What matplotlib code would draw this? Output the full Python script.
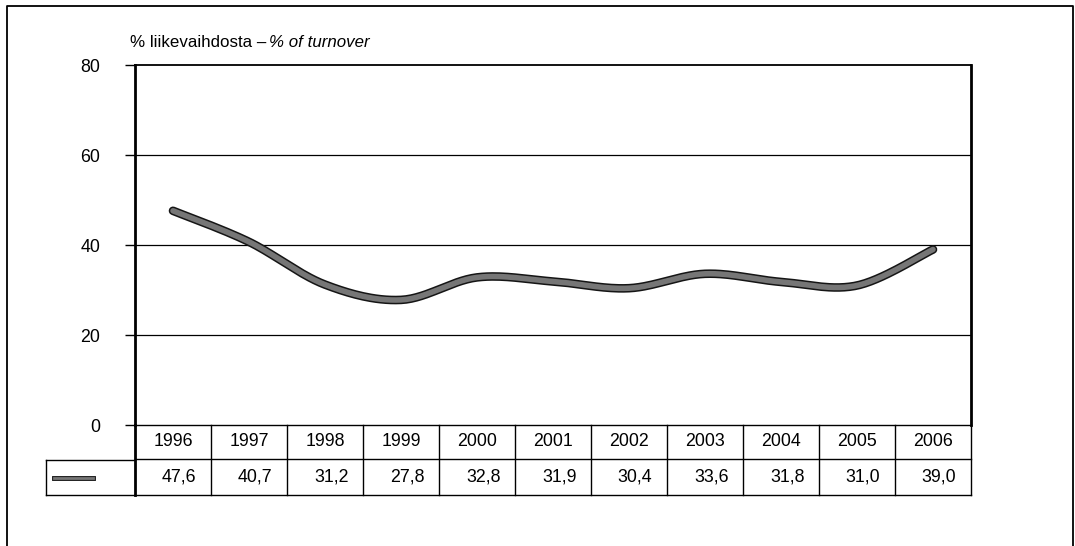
import numpy as np
import matplotlib
matplotlib.use("Agg")
import matplotlib.pyplot as plt
from matplotlib.lines import Line2D
import matplotlib.patheffects as pe

years = ["1996", "1997", "1998", "1999", "2000", "2001", "2002", "2003", "2004", "2005", "2006"]
values = [47.6, 40.7, 31.2, 27.8, 32.8, 31.9, 30.4, 33.6, 31.8, 31.0, 39.0]
value_labels = ["47,6", "40,7", "31,2", "27,8", "32,8", "31,9", "30,4", "33,6", "31,8", "31,0", "39,0"]
yticks = [0, 20, 40, 60, 80]
title_fi = "% liikevaihdosta –"
title_en = "% of turnover"

plt.rcParams['font.family'] = ['Liberation Sans', 'DejaVu Sans']
FS = 12.8
TFS = 12.2

W, H = 1075, 546
fig = plt.figure(figsize=(W / 100, H / 100), dpi=100)

L, R, T, B = 135, 971, 65, 425
ax = fig.add_axes([L / W, 1 - B / H, (R - L) / W, (B - T) / H])

x = np.arange(len(values), dtype=float)
y = np.array(values, dtype=float)

# Catmull-Rom smoothing (Excel-like smoothed line)
def smooth(xp, yp, n=30):
    P = np.column_stack([xp, yp])
    P = np.vstack([P[0], P, P[-1]])
    out = []
    for i in range(1, len(P) - 2):
        p0, p1, p2, p3 = P[i - 1], P[i], P[i + 1], P[i + 2]
        t = np.linspace(0, 1, n, endpoint=False)[:, None]
        c1 = p1 + (p2 - p0) / 6
        c2 = p2 - (p3 - p1) / 6
        seg = ((1 - t) ** 3) * p1 + 3 * ((1 - t) ** 2) * t * c1 + 3 * (1 - t) * t ** 2 * c2 + t ** 3 * p2
        out.append(seg)
    out.append(P[-2][None, :])
    out = np.vstack(out)
    return out[:, 0], out[:, 1]

sx, sy = smooth(x, y)
ax.plot(sx, sy, color='#767676', lw=4.0, solid_capstyle='round', zorder=3,
        path_effects=[pe.Stroke(linewidth=6.2, foreground='#151515'), pe.Normal()])

ax.set_xlim(-0.5, len(values) - 0.5)
ax.set_ylim(0, 80)
ax.set_yticks(yticks)
ax.set_yticklabels([str(v) for v in yticks], fontsize=FS)
ax.tick_params(axis='y', direction='out', length=7, width=1, pad=18, color='black')
ax.set_xticks([])
for v in yticks[1:-1]:
    ax.axhline(v, color='black', lw=0.9, zorder=1)
ax.spines['left'].set_linewidth(2.0)
ax.spines['right'].set_linewidth(2.0)
ax.spines['top'].set_linewidth(1.3)
ax.spines['bottom'].set_linewidth(1.0)

# Title
ta = fig.text((L - 5) / W, 1 - 43 / H, title_fi, fontsize=TFS, va='center', ha='left')
ax.annotate(title_en, xy=(1, 0.5), xycoords=ta, xytext=(2, 0), textcoords='offset points',
            va='center', ha='left', fontsize=TFS, style='italic')

# Data table below the axis
ph = B - T
r1 = -34 / ph
r2 = -70 / ph
tr = ax.get_xaxis_transform()
kw = dict(transform=tr, color='black', lw=1.0, clip_on=False)
ax.add_line(Line2D([-0.5, len(values) - 0.5], [r1, r1], **kw))
ax.add_line(Line2D([-0.5, len(values) - 0.5], [r2, r2], **kw))
for i in range(len(values) + 1):
    lw = 2.0 if i == 0 else 1.0
    ax.add_line(Line2D([i - 0.5, i - 0.5], [0, r2], transform=tr, color='black', lw=lw, clip_on=False))
for i, (yr, vl) in enumerate(zip(years, value_labels)):
    ax.text(i, r1 / 2, yr, transform=tr, ha='center', va='center', fontsize=FS)
    ax.annotate(vl, xy=(i + 0.5, (r1 + r2) / 2), xycoords=tr, xytext=(-10.5, 0),
                textcoords='offset points', ha='right', va='center', fontsize=FS)

# legend cell to the left of value row
lx0 = 46
fig.add_artist(Line2D([lx0 / W, L / W], [1 - 460 / H, 1 - 460 / H], transform=fig.transFigure, color='black', lw=1.0))
fig.add_artist(Line2D([lx0 / W, L / W], [1 - 495 / H, 1 - 495 / H], transform=fig.transFigure, color='black', lw=1.0))
fig.add_artist(Line2D([lx0 / W, lx0 / W], [1 - 460 / H, 1 - 495 / H], transform=fig.transFigure, color='black', lw=1.0))
fig.add_artist(Line2D([54 / W, 93 / W], [1 - 478 / H, 1 - 478 / H], transform=fig.transFigure,
                      color='#767676', lw=2.0, path_effects=[pe.Stroke(linewidth=3.5, foreground='#151515'), pe.Normal()]))

# outer frame
fig.add_artist(Line2D([7 / W, 7 / W, 1073 / W, 1073 / W], [0, 1 - 6 / H, 1 - 6 / H, 0],
                      transform=fig.transFigure, color='black', lw=1.3))

fig.savefig("out.png", dpi=100)
